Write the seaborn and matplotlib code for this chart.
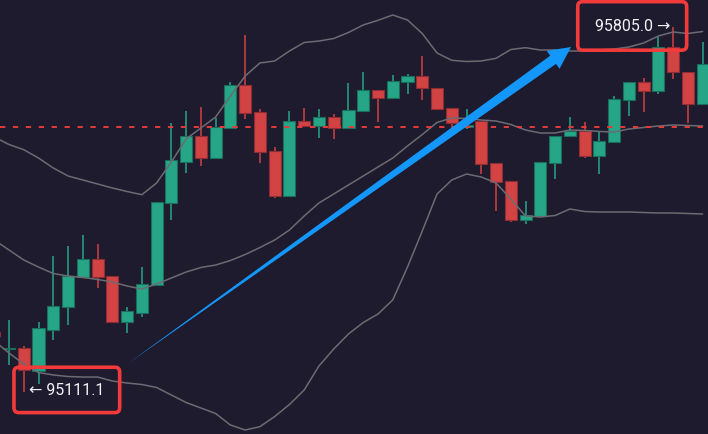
#Candlestick chart with Bollinger bands, dark theme
import numpy as np
import pandas as pd
import matplotlib.pyplot as plt
import seaborn as sns
from matplotlib.patches import Polygon

#Candle data (oldest first)
opens = [95225.3, 95192.0, 95194.3, 95151.6, 95229.6, 95272.3, 95329.3, 95364.2, 95331.2, 95244.9,
         95261.4, 95314.7, 95470.7, 95549.3, 95598.8, 95556.9, 95614.0, 95695.8, 95643.9, 95569.6,
         95484.6, 95626.7, 95616.6, 95634.3, 95612.8, 95646.3, 95685.7, 95671.1, 95701.5, 95712.9,
         95690.1, 95650.9, 95614.7, 95626.7, 95546.8, 95512.6, 95438.9, 95445.4, 95547.4, 95597.6,
         95607.7, 95559.6, 95587.3, 95666.7, 95700.4, 95683.8, 95767.0, 95719.4, 95658.5]
highs = [95231.0, 95248.7, 95199.2, 95243.7, 95370.4, 95389.5, 95409.8, 95392.7, 95331.2, 95273.4,
         95348.4, 95473.2, 95622.9, 95645.8, 95653.4, 95633.0, 95700.4, 95790.4, 95650.1, 95577.3,
         95645.8, 95650.9, 95649.6, 95639.5, 95699.0, 95719.4, 95685.7, 95714.3, 95715.6, 95749.8,
         95690.1, 95650.9, 95649.6, 95626.7, 95546.8, 95512.6, 95474.5, 95549.3, 95598.8, 95633.8,
         95624.3, 95607.7, 95674.3, 95700.4, 95708.0, 95786.0, 95805.0, 95719.4, 95776.5]
lows = [95211.9, 95163.0, 95111.1, 95126.3, 95210.6, 95239.2, 95328.0, 95308.4, 95244.9, 95222.8,
        95254.4, 95314.7, 95438.9, 95527.8, 95541.7, 95554.4, 95614.0, 95630.5, 95546.8, 95479.7,
        95484.6, 95616.6, 95595.0, 95592.5, 95612.8, 95646.3, 95625.4, 95671.1, 95678.7, 95666.1,
        95649.0, 95612.8, 95611.5, 95526.5, 95456.1, 95435.1, 95431.3, 95445.4, 95516.4, 95597.6,
        95555.8, 95525.3, 95587.3, 95636.8, 95643.3, 95678.1, 95706.6, 95622.9, 95658.5]
closes = [95217.7, 95193.9, 95153.5, 95232.9, 95275.3, 95331.2, 95364.2, 95329.3, 95244.9, 95264.7,
          95316.6, 95473.2, 95552.5, 95598.8, 95556.9, 95615.9, 95695.8, 95641.4, 95567.2, 95484.6,
          95626.7, 95616.6, 95634.3, 95612.8, 95648.2, 95685.7, 95671.1, 95702.8, 95712.9, 95688.9,
          95649.0, 95622.0, 95618.5, 95545.5, 95510.1, 95438.9, 95447.9, 95549.3, 95598.8, 95608.3,
          95559.6, 95588.7, 95668.6, 95700.4, 95684.4, 95767.0, 95719.4, 95658.5, 95735.2]

#Bollinger bands
upper = [95596.3, 95582.0, 95572.1, 95556.3, 95537.3, 95522.1, 95514.5, 95506.9, 95499.3, 95492.6,
         95486.5, 95508.8, 95548.7, 95592.5, 95613.4, 95634.3, 95674.3, 95712.3, 95737.1, 95740.9,
         95759.9, 95776.1, 95778.9, 95783.7, 95795.1, 95809.4, 95818.3, 95828.4, 95818.9, 95793.2,
         95756.1, 95742.2, 95739.9, 95740.9, 95746.0, 95762.8, 95766.2, 95761.8, 95761.8, 95759.9,
         95759.9, 95761.8, 95763.7, 95767.5, 95775.1, 95788.5, 95796.1, 95793.2, 95797.0]
middle = [95400.3, 95381.3, 95362.3, 95348.9, 95336.6, 95331.8, 95329.0, 95325.2, 95320.4, 95312.8,
          95307.1, 95316.6, 95328.0, 95339.4, 95348.0, 95352.7, 95361.3, 95372.7, 95386.0, 95400.3,
          95419.3, 95446.0, 95470.7, 95487.8, 95505.0, 95522.1, 95539.2, 95556.3, 95579.2, 95601.0,
          95623.9, 95632.4, 95631.5, 95628.6, 95626.7, 95620.1, 95609.6, 95603.9, 95603.9, 95609.6,
          95608.7, 95606.8, 95605.8, 95611.5, 95614.4, 95617.2, 95619.1, 95618.2, 95617.2]
lower = [95208.1, 95185.3, 95164.4, 95148.2, 95143.5, 95140.6, 95139.6, 95139.6, 95132.0, 95128.2,
         95125.4, 95119.7, 95105.4, 95091.1, 95080.7, 95070.2, 95048.3, 95038.8, 95045.1, 95064.5,
         95087.3, 95114.9, 95160.6, 95192.9, 95221.5, 95243.3, 95259.5, 95286.2, 95348.9, 95417.4,
         95487.8, 95514.5, 95525.9, 95520.2, 95508.8, 95478.3, 95446.0, 95444.1, 95446.9, 95459.3,
         95454.5, 95453.6, 95453.6, 95453.6, 95452.6, 95451.7, 95451.7, 95450.7, 95449.8]

#Current price line and the two marked extremes
last_price = 95615.3
low_label = '\u2190 95111.1'
high_label = '95805.0 \u2192'

#Arrow anchors (candle index, price)
arrow_tail = (8.08, 95165.7)
arrow_tip = (38.08, 95767.5)

bg = '#1e1b2e'
green = '#26a687'
red = '#d24343'

df = pd.DataFrame({'open': opens, 'high': highs, 'low': lows, 'close': closes,
                   'upper': upper, 'middle': middle, 'lower': lower})
df['idx'] = np.arange(len(df)) - 1
up = df['close'] >= df['open']
df['color'] = np.where(up, green, red)
df['edge'] = np.where(up, '#1c6e5c', '#8c2e33')

sns.set_theme(style='dark', rc={'axes.facecolor': bg, 'figure.facecolor': bg,
                                'lines.scale_dashes': False})
plt.rcParams['font.family'] = ['Roboto', 'DejaVu Sans']

fig = plt.figure(figsize=(7.08, 4.35), dpi=100)
ax = fig.add_axes([0, 0, 1, 1])

#Wicks and bodies
ax.vlines(df['idx'], df['low'], df['high'], colors=df['color'], lw=1.1, zorder=2)
ax.bar(df['idx'], (df['close'] - df['open']).abs(), bottom=df[['open', 'close']].min(axis=1),
       width=0.82, color=df['color'], edgecolor=df['edge'], linewidth=0.8, zorder=3)

#Bands
for c in ['upper', 'middle', 'lower']:
    sns.lineplot(data=df, x='idx', y=c, ax=ax, color='#6c6b72', linewidth=1.1, zorder=4)

ax.axhline(last_price, color='#e33b3b', lw=1.4, dashes=(3.8, 5.5), zorder=5)

ax.set_xlim(-0.61, 47.36)
ax.set_ylim(95031.2, 95858.85)

#Tapered arrow, built in pixel space so it is not skewed
S = ax.transData.transform(arrow_tail)
T = ax.transData.transform(arrow_tip)
d = (T - S) / np.linalg.norm(T - S)
n = np.array([-d[1], d[0]])
B = T - d * 22
pts = [S, B + n * 5, B + n * 11, T, B - n * 11, B - n * 5]
pts = ax.transData.inverted().transform(np.array(pts))
ax.add_patch(Polygon(pts, closed=True, color='#1497fb', lw=0, zorder=6))

#Extreme labels in red boxes
lo_i = int(np.argmin(lows)) - 1
hi_i = int(np.argmax(highs)) - 1
ax.annotate(low_label, xy=(lo_i, min(lows)), xytext=(31, 1.5), textcoords='offset points',
            ha='center', va='center', color='#f2f2f5', fontsize=11.5,
            bbox=dict(boxstyle='round,pad=0.95,rounding_size=0.3', fc='none', ec='#f23a3a', lw=2.6),
            zorder=7)
ax.annotate(high_label, xy=(hi_i, max(highs)), xytext=(-29.5, 1), textcoords='offset points',
            ha='center', va='center', color='#f2f2f5', fontsize=11.5,
            bbox=dict(boxstyle='round,pad=1.05,rounding_size=0.3', fc='none', ec='#f23a3a', lw=2.6),
            zorder=7)

ax.set_xlabel('')
ax.set_ylabel('')
ax.set_xticks([])
ax.set_yticks([])
for s in ax.spines.values():
    s.set_visible(False)

fig.savefig('out.png', dpi=100, facecolor=bg)
